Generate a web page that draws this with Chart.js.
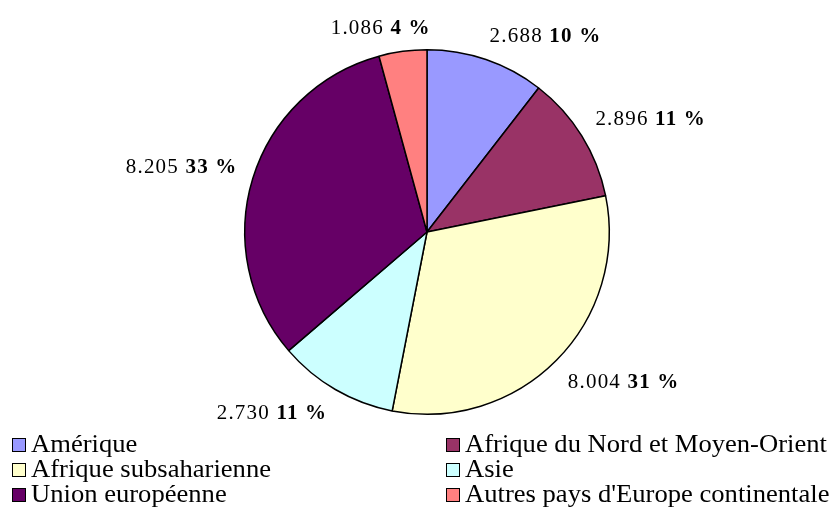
<!DOCTYPE html>
<html><head><meta charset="utf-8">
<script src="https://cdn.jsdelivr.net/npm/chart.js@4/dist/chart.umd.min.js"></script>
<style>
html,body{margin:0;padding:0;background:#fff;}
#wrap{position:relative;width:839px;height:516px;}
#c{position:absolute;left:0;top:0;}
#legend{position:absolute;left:0;top:432px;width:839px;font-family:"Liberation Serif","Times New Roman",serif;font-size:27px;color:#000;}
.item{position:absolute;display:flex;align-items:center;height:25px;white-space:nowrap;line-height:25px;}
.box{width:12px;height:12px;border:1px solid #000;margin-right:5px;box-sizing:content-box;}
.txt{display:inline-block;transform:scale(0.985,0.92);transform-origin:left center;}
</style></head>
<body><div id="wrap"><canvas id="c" width="839" height="516"></canvas><div id="legend"></div></div>
<script>
const categories = ["Amérique","Afrique du Nord et Moyen-Orient","Afrique subsaharienne","Asie","Union européenne","Autres pays d'Europe continentale"];
const values = [2688, 2896, 8004, 2730, 8205, 1086];
const valueLabels = ["2.688","2.896","8.004","2.730","8.205","1.086"];
const percentLabels = ["10 %","11 %","31 %","11 %","33 %","4 %"];
const colors = ["#9999FF","#993366","#FFFFCC","#CCFFFF","#660066","#FF8080"];

const labelPlugin = {
  id:'outLabels',
  afterDatasetsDraw(chart){
    const ctx = chart.ctx;
    const meta = chart.getDatasetMeta(0);
    const clamp = v => Math.max(-1, Math.min(1, v));
    ctx.save();
    ctx.fillStyle = '#000';
    ctx.textBaseline = 'alphabetic';
    ctx.letterSpacing = '1.2px';
    meta.data.forEach((arc,i)=>{
      const p = arc.getProps(['x','y','startAngle','endAngle','outerRadius'],true);
      const mid = (p.startAngle+p.endAngle)/2;
      const r = p.outerRadius + 16;
      const dx = Math.cos(mid), dy = Math.sin(mid);
      const s1 = valueLabels[i] + ' ';
      const s2 = percentLabels[i];
      ctx.font = '21px "Liberation Serif", serif';
      const w1 = ctx.measureText(s1).width;
      ctx.font = 'bold 21px "Liberation Serif", serif';
      const w2 = ctx.measureText(s2).width;
      const w = w1 + w2, h = 18;
      const cxp = p.x + r*dx + w/2*clamp(3*dx);
      const cyp = p.y + r*dy + h/2*clamp(3*dy);
      const left = cxp - w/2;
      const base = cyp + 7;
      ctx.font = '21px "Liberation Serif", serif';
      ctx.fillText(s1, left, base);
      ctx.font = 'bold 21px "Liberation Serif", serif';
      ctx.fillText(s2, left + w1, base);
    });
    ctx.restore();
  }
};

new Chart(document.getElementById('c'), {
  type:'pie',
  data:{labels:categories, datasets:[{data:values, backgroundColor:colors, borderColor:'#000', borderWidth:1.5}]},
  options:{
    responsive:false, animation:false,
    layout:{padding:{left:244,right:229,top:49,bottom:101}},
    plugins:{legend:{display:false}, tooltip:{enabled:false}}
  },
  plugins:[labelPlugin]
});

const leg = document.getElementById('legend');
const colX = [12, 446];
categories.forEach((name,i)=>{
  const d = document.createElement('div');
  d.className='item';
  d.style.left = colX[i%2]+'px';
  d.style.top = (Math.floor(i/2)*25)+'px';
  d.innerHTML = '<span class="box" style="background:'+colors[i]+'"></span><span class="txt">'+name+'</span>';
  leg.appendChild(d);
});
</script></body></html>
